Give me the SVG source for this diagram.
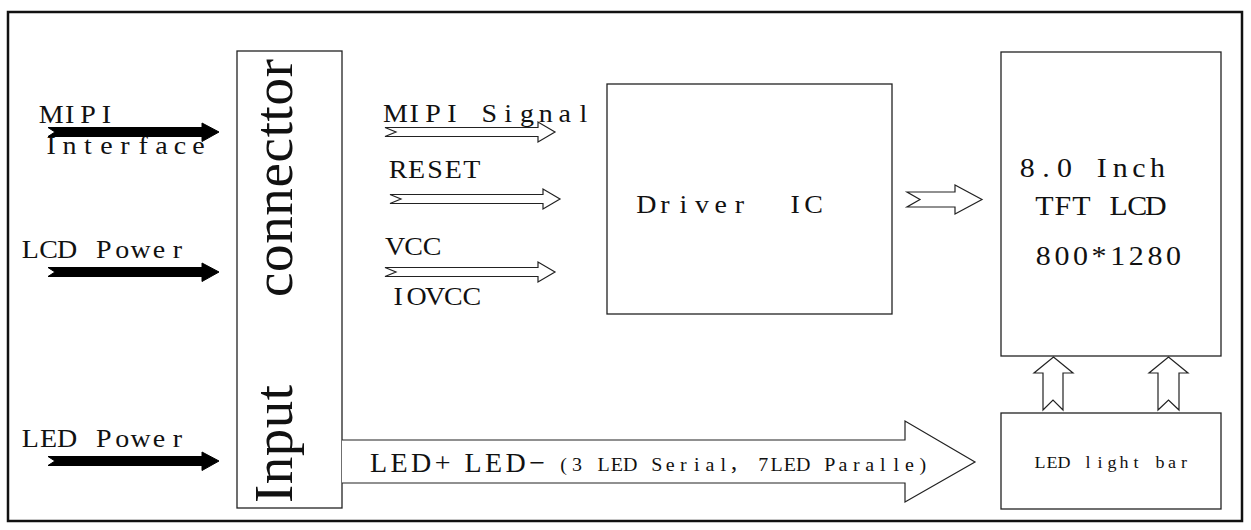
<svg xmlns="http://www.w3.org/2000/svg" width="1251" height="530" viewBox="0 0 1251 530">
  <style>
    .box { fill: #ffffff; stroke: #222222; stroke-width: 1.3; }
    .frame { fill: none; stroke: #111111; stroke-width: 2.5; }
    .hollow { fill: #ffffff; stroke: #222222; stroke-width: 1.2; stroke-linejoin: miter; }
    .solid { fill: #000000; stroke: #000000; stroke-width: 1; }
    /* fixed-pitch labels: one x per glyph, each glyph centred in its cell,
       drawn with a slightly flattened serif face */
    .cell { font-family: "Liberation Serif", "Times New Roman", "Noto Sans CJK SC", serif; fill: #111111; text-anchor: middle; white-space: pre; }
    .serif { font-family: "Liberation Serif", "Times New Roman", serif; fill: #111111; }
  </style>

  <rect width="1251" height="530" fill="#ffffff"/>
  <rect class="frame" x="8" y="12" width="1234" height="509"/>

  <!-- input labels on the left -->
  <g id="label-mipi-interface">
    <text class="cell" font-size="28" transform="translate(0 123) scale(1 0.93)" x="51.2 69.6 88 106.4">MIPI</text>
    <text class="cell" font-size="28" transform="translate(0 154) scale(1 0.93)" x="51.2 69.6 88 106.4 124.8 143.2 161.6 180 198.4">Interface</text>
  </g>
  <g id="label-lcd-power">
    <text class="cell" font-size="28" transform="translate(0 258) scale(1 0.93)" xml:space="preserve" x="30.2 48.6 67 85.4 103.8 122.2 140.6 159 177.4">LCD Power</text>
  </g>
  <g id="label-led-power">
    <text class="cell" font-size="28" transform="translate(0 447) scale(1 0.93)" xml:space="preserve" x="30.2 48.6 67 85.4 103.8 122.2 140.6 159 177.4">LED Power</text>
  </g>

  <!-- input connector -->
  <g id="input-connector">
    <rect class="box" x="237" y="51" width="105" height="457"/>
    <text class="serif" font-size="55" transform="translate(292,503) rotate(-90)" textLength="118">Input</text>
    <text class="serif" font-size="55" transform="translate(292,297) rotate(-90)" textLength="238">connecttor</text>
  </g>

  <!-- driver IC -->
  <g id="driver-ic">
    <rect class="box" x="607" y="84" width="285" height="230"/>
    <text class="cell" font-size="28" transform="translate(0 213) scale(1 0.93)" xml:space="preserve" x="646.3 664.9 683.5 702.1 720.7 739.3 757.9 776.5 795.1 813.7">Driver  IC</text>
  </g>

  <!-- panel -->
  <g id="tft-lcd">
    <rect class="box" x="1001" y="52" width="220" height="304"/>
    <text class="cell" font-size="30" transform="translate(0 177) scale(1 0.93)" xml:space="preserve" x="1027.3 1045.9 1064.5 1083.1 1101.7 1120.3 1138.9 1157.5">8.0 Inch</text>
    <text class="cell" font-size="30" transform="translate(0 215) scale(1 0.93)" xml:space="preserve" x="1044.3 1062.9 1081.5 1100.1 1118.7 1137.3 1155.9">TFT LCD</text>
    <text class="cell" font-size="30" transform="translate(0 265) scale(1 0.93)" x="1043.3 1061.9 1080.5 1099.1 1117.7 1136.3 1154.9 1173.5">800*1280</text>
  </g>

  <!-- backlight -->
  <g id="led-light-bar">
    <rect class="box" x="1001" y="413" width="220" height="96"/>
    <text class="cell" font-size="18" transform="translate(0 468) scale(1 0.93)" xml:space="preserve" x="1040 1052 1064 1076 1088 1100 1112 1124 1136 1148 1160 1172 1184">LED light bar</text>
  </g>

  <!-- signal labels between connector and driver -->
  <g id="signal-labels">
    <text class="cell" font-size="28" transform="translate(0 122) scale(1 0.93)" xml:space="preserve" x="395.4 414.2 433 451.8 470.6 489.4 508.2 527 545.8 564.6 583.4">MIPI Signal</text>
    <text class="cell" font-size="28" transform="translate(0 178) scale(1 0.93)" x="398.2 416.6 435 453.4 471.8">RESET</text>
    <text class="cell" font-size="28" transform="translate(0 255) scale(1 0.93)" x="395.2 413.6 432">VCC</text>
    <text class="cell" font-size="28" transform="translate(0 305) scale(1 0.93)" x="398.2 416.6 435 453.4 471.8">IOVCC</text>
  </g>

  <g id="connectors">
    <!-- solid input arrows -->
    <polygon class="solid" points="48,127.5 202,127.5 202,123 219,132 202,141.5 202,136.5 48,136.5 55,132"/>
    <polygon class="solid" points="48,267.5 202,267.5 202,263 219,272 202,281.5 202,276.5 48,276.5 55,272"/>
    <polygon class="solid" points="48,456.5 202,456.5 202,452 219,461 202,470.5 202,465.5 48,465.5 55,461"/>

    <!-- hollow signal arrows -->
    <polygon class="hollow" points="385,127.5 538,127.5 538,122 555,132 538,142 538,136.5 385,136.5 396,132"/>
    <polygon class="hollow" points="390,194.5 543,194.5 543,189 560,199 543,209 543,203.5 390,203.5 401,199"/>
    <polygon class="hollow" points="385,267.5 538,267.5 538,262 555,272 538,282 538,276.5 385,276.5 396,272"/>

    <!-- driver to panel -->
    <polygon class="hollow" points="907,192 955,192 955,185 982,199.5 955,214 955,207 907,207 920,199.5"/>

    <!-- backlight to panel -->
    <polygon class="hollow" points="1043,410 1043,373 1034,373 1053.5,357 1073,373 1063,373 1063,410 1053,400"/>
    <polygon class="hollow" points="1158,410 1158,373 1149,373 1168.5,357 1188,373 1179,373 1179,410 1168.5,400"/>

    <!-- LED supply arrow -->
    <polyline class="hollow" points="342,440 905,440 905,421 975,462 905,502 905,483 342,483"/>
    <text class="serif" x="370" y="472" font-size="28" textLength="175">LED+ LED−</text>
    <text class="cell" font-size="20" transform="translate(0 471) scale(1 0.93)" xml:space="preserve" x="563.7 577 590.3 603.6 616.9 630.2 643.5 656.8 670.1 683.4 696.7 710 723.3 739 763.2 776.5 789.8 803.1 816.4 829.7 843 856.3 869.6 882.9 896.2 909.5 922.8">(3 LED Serial，7LED Paralle)</text>
  </g>
</svg>
